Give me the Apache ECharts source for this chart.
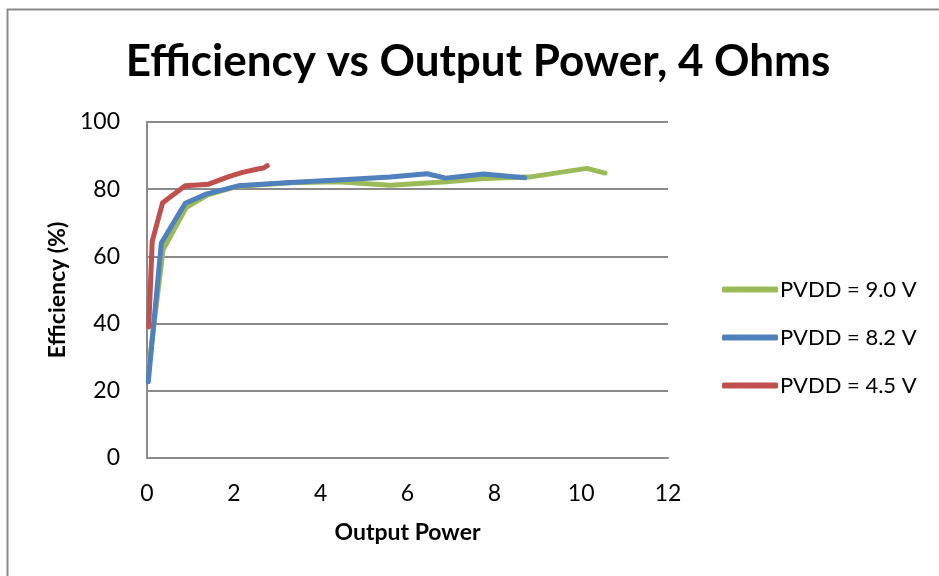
<!DOCTYPE html>
<html>
<head>
<meta charset="utf-8">
<script src="https://cdn.jsdelivr.net/npm/echarts@6/dist/echarts.min.js"></script>
<style>html,body{margin:0;padding:0;background:#fff}#c{width:939px;height:576px}</style>
</head>
<body>
<div id="c"></div>
<script>
var seriesNames = ['PVDD = 9.0 V', 'PVDD = 8.2 V', 'PVDD = 4.5 V'];
var pvdd90 = [[0.05, 28], [0.37, 62], [0.9, 74.5], [1.4, 78.3], [2.1, 80.9], [3.3, 81.9], [4.4, 82.2], [5.6, 81.2], [6.9, 82.2], [7.75, 83.2], [8.8, 83.6], [10.13, 86.2], [10.55, 84.8]];
var pvdd82 = [[0.03, 22.7], [0.33, 64], [0.88, 75.8], [1.38, 78.6], [2.1, 81], [3.3, 82], [4.5, 82.8], [5.6, 83.6], [6.45, 84.6], [6.88, 83.3], [7.75, 84.5], [8.7, 83.4]];
var pvdd45 = [[0.04, 39], [0.12, 64.5], [0.36, 76], [0.88, 81], [1.42, 81.5], [1.9, 83.8], [2.2, 85], [2.55, 86], [2.68, 86.3], [2.77, 87]];
var xTicks = [0, 2, 4, 6, 8, 10, 12];
var yTicks = [0, 20, 40, 60, 80, 100];
var colors = ['#9BBB59', '#4F81BD', '#C0504D'];
var titleText = 'Efficiency vs Output Power, 4 Ohms';
var xTitle = 'Output Power';
var yTitle = 'Efficiency (%)';

var font = 'Lato';
var chart = echarts.init(document.getElementById('c'), null, {renderer: 'canvas'});
var data = [pvdd90, pvdd82, pvdd45];
chart.setOption({
  animation: false,
  backgroundColor: '#fff',
  color: colors,
  graphic: [{
    type: 'rect', silent: true, z: -1,
    shape: {x: 7.5, y: 9.5, width: 1200, height: 1200},
    style: {fill: 'none', stroke: '#8a8a8a', lineWidth: 2}
  }],
  title: {
    text: titleText, left: 478, top: 40, textAlign: 'center', padding: 0,
    textStyle: {fontFamily: font, fontWeight: 'bold', fontSize: 44, color: '#000'}
  },
  legend: {
    orient: 'vertical', left: 722, top: 278, padding: 0,
    itemWidth: 56, itemHeight: 6, itemGap: 25, icon: 'roundRect',
    textStyle: {fontFamily: font, fontSize: 22, color: '#000', lineHeight: 23, padding: [0, 0, 0, -3]},
    data: seriesNames
  },
  grid: {left: 147, right: 271, top: 122, bottom: 118, containLabel: false},
  xAxis: {
    type: 'value', min: xTicks[0], max: xTicks[xTicks.length - 1], interval: 2,
    name: xTitle, nameLocation: 'middle', nameGap: 63,
    nameTextStyle: {fontFamily: font, fontWeight: 'bold', fontSize: 23, color: '#000'},
    axisLine: {show: true, lineStyle: {color: '#8a8a8a', width: 2}},
    axisTick: {show: false},
    splitLine: {show: false},
    axisLabel: {fontFamily: font, fontSize: 23, color: '#000', margin: 24}
  },
  yAxis: {
    type: 'value', min: yTicks[0], max: yTicks[yTicks.length - 1], interval: 20,
    name: yTitle, nameLocation: 'middle', nameGap: 73, nameRotate: 90,
    nameTextStyle: {fontFamily: font, fontWeight: 'bold', fontSize: 23, color: '#000'},
    axisLine: {show: true, lineStyle: {color: '#8a8a8a', width: 2}},
    axisTick: {show: false},
    splitLine: {show: true, lineStyle: {color: '#8a8a8a', width: 2}},
    axisLabel: {fontFamily: font, fontSize: 23, color: '#000', margin: 27}
  },
  series: seriesNames.map(function (n, i) {
    return {
      name: n, type: 'line', data: data[i], showSymbol: false, symbol: 'none',
      lineStyle: {width: 5, color: colors[i], cap: 'round', join: 'round'},
      itemStyle: {color: colors[i]}, z: 2 + i
    };
  })
});
</script>
</body>
</html>
